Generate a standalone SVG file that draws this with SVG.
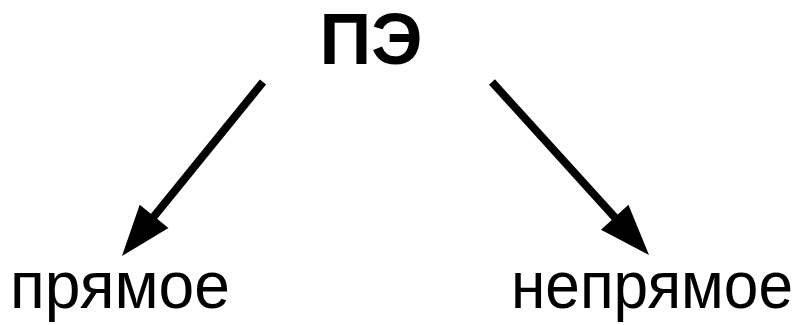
<svg xmlns="http://www.w3.org/2000/svg" width="800" height="325" viewBox="0 0 800 325">
  <style>
    .title { font-family: "Liberation Sans", Arial, sans-serif; font-weight: bold; font-size: 72px; fill: #000; }
    .label { font-family: "Liberation Sans", Arial, sans-serif; font-size: 66px; fill: #000; }
    .conn { stroke: #000; stroke-width: 8; fill: none; }
  </style>
  <defs>
    <marker id="head" markerUnits="userSpaceOnUse" markerWidth="60" markerHeight="40" viewBox="0 -20 52 40" refX="26" refY="0" orient="auto">
      <path d="M0,-18.5 L51,0 L0,18.5 z" fill="#000"/>
    </marker>
  </defs>
  <g id="node-pe">
    <text class="title" x="371" y="64" text-anchor="middle">ПЭ</text>
  </g>
  <g id="node-direct">
    <text class="label" x="10" y="308" textLength="220" lengthAdjust="spacingAndGlyphs">прямое</text>
  </g>
  <g id="node-indirect">
    <text class="label" x="511" y="308" textLength="282" lengthAdjust="spacingAndGlyphs">непрямое</text>
  </g>
  <g id="connectors">
    <line class="conn" x1="263" y1="82" x2="137.7" y2="236.6" marker-end="url(#head)"/>
    <line class="conn" x1="492" y1="82" x2="632.2" y2="236.5" marker-end="url(#head)"/>
  </g>
</svg>
